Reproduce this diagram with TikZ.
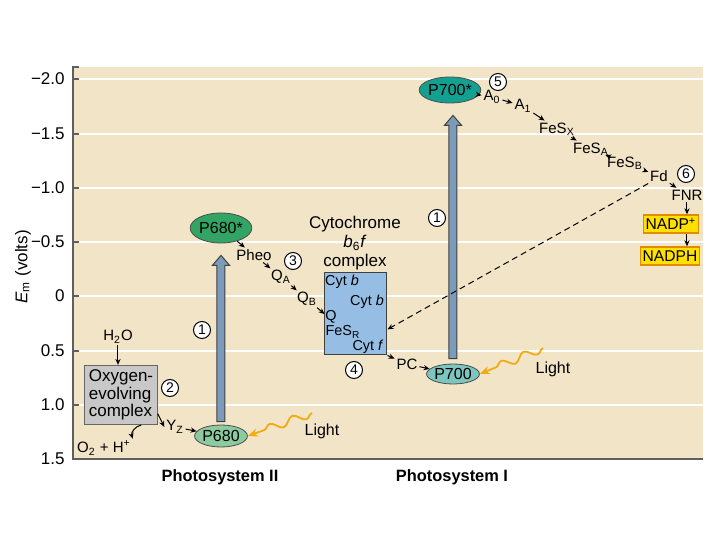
\documentclass[tikz,border=0pt]{standalone}
\usepackage{fontspec}
\setmainfont{Liberation Sans}
\usetikzlibrary{arrows.meta,calc,shapes.geometric,decorations.pathmorphing}

\definecolor{plotbg}{RGB}{242,229,199}
\definecolor{axisgray}{RGB}{95,95,95}
\definecolor{psIdark}{RGB}{20,160,145}
\definecolor{psIlight}{RGB}{125,198,192}
\definecolor{psIIdark}{RGB}{50,165,100}
\definecolor{psIIlight}{RGB}{140,202,160}
\definecolor{arrowblue}{RGB}{125,155,185}
\definecolor{cytblue}{RGB}{150,190,228}
\definecolor{oecgray}{RGB}{200,200,200}
\definecolor{nadpyellow}{RGB}{255,224,0}
\definecolor{nadpedge}{RGB}{225,140,0}
\definecolor{lightorange}{RGB}{240,170,20}

\tikzset{
  tick/.style={anchor=east, inner sep=0pt, font=\fontsize{8.5}{9}\selectfont},
  grid/.style={white, line width=0.8pt},
  axis/.style={axisgray, line width=1pt},
  lbl/.style={inner sep=0.8pt, font=\fontsize{7.5}{8}\selectfont},
  cytlbl/.style={inner sep=0.5pt, font=\fontsize{7.2}{8}\selectfont},
  num/.style={circle, draw, fill=white, line width=0.5pt, inner sep=0pt,
    minimum size=8.5pt, font=\fontsize{7}{7}\selectfont},
  pigment/.style={ellipse, draw=black!70, line width=0.4pt, inner sep=0pt,
    font=\fontsize{8}{9}\selectfont},
  cofactor/.style={draw=nadpedge, fill=nadpyellow, line width=0.7pt, inner xsep=1pt,
    inner ysep=1.5pt, minimum height=9pt, font=\fontsize{7.8}{9}\selectfont},
  arr/.style={-{Stealth[length=3pt,width=2.6pt]}, line width=0.5pt},
  bigarrow/.style={fill=arrowblue, draw=black!75, line width=0.5pt},
  lightwave/.style={lightorange, line width=0.9pt, decorate,
    decoration={snake, amplitude=2pt, segment length=12pt, post length=5pt},
    -{Stealth[length=5pt,width=4pt]}},
  lighttxt/.style={inner sep=0pt, font=\fontsize{8}{9}\selectfont},
  pslabel/.style={inner sep=0pt, font=\bfseries\fontsize{8.2}{9}\selectfont}
}

\begin{document}
\begin{tikzpicture}[x=0.5pt,y=-0.5pt]
    \useasboundingbox (0,0) rectangle (720,540);

    % plot area
    \fill[plotbg] (73,67) rectangle (703,459);
    \draw[grid] (79,79) -- (703,79);
    \draw[grid] (79,134) -- (703,134);
    \draw[grid] (79,188) -- (703,188);
    \draw[grid] (79,242) -- (703,242);
    \draw[grid] (79,296) -- (703,296);
    \draw[grid] (79,351) -- (703,351);
    \draw[grid] (79,405) -- (703,405);
    \draw[axis] (79,67) -- (73,67) -- (73,459) -- (703,459);
    \draw[axis] (73,79) -- (79,79);
    \draw[axis] (73,134) -- (79,134);
    \draw[axis] (73,188) -- (79,188);
    \draw[axis] (73,242) -- (79,242);
    \draw[axis] (73,296) -- (79,296);
    \draw[axis] (73,351) -- (79,351);
    \draw[axis] (73,405) -- (79,405);
    \node[tick] (t1) at (65,79) {−2.0};
    \node[tick] (t2) at (65,134) {−1.5};
    \node[tick] (t3) at (65,188) {−1.0};
    \node[tick] (t4) at (65,242) {−0.5};
    \node[tick] (t5) at (65,296) {0};
    \node[tick] (t6) at (65,351) {0.5};
    \node[tick] (t7) at (65,405) {1.0};
    \node[tick] (t8) at (65,459) {1.5};
    \node[rotate=90, inner sep=0pt, font=\fontsize{8.5}{9}\selectfont] (ylab) at (23,267)
        {\textit{E}\textsubscript{m} (volts)};

    % pigments
    \node[pigment, fill=psIdark, minimum width=29pt, minimum height=13pt] (P700s) at (450,90) {P700*};
    \node[pigment, fill=psIlight, minimum width=26pt, minimum height=10pt] (P700) at (453,374) {P700};
    \node[pigment, fill=psIIdark, minimum width=28.5pt, minimum height=15pt] (P680s) at (221,228) {P680*};
    \node[pigment, fill=psIIlight, minimum width=26pt, minimum height=11pt] (P680) at (221,436) {P680};

    % excitation
    \draw[bigarrow] let \p1=(P700.north), \p2=(P700s.south) in
        (\x1-2pt,\y1+2.5pt) -- (\x1-2pt,\y2-11pt) -- (\x1-4.3pt,\y2-11pt) -- (\x1,\y2-6pt)
        -- (\x1+4.3pt,\y2-11pt) -- (\x1+2pt,\y2-11pt) -- (\x1+2pt,\y1+2.5pt) -- cycle;
    \draw[bigarrow] let \p1=(P680.north), \p2=(P680s.south) in
        (\x1-2pt,\y1+1.5pt) -- (\x1-2pt,\y2-11pt) -- (\x1-4.3pt,\y2-11pt) -- (\x1,\y2-6pt)
        -- (\x1+4.3pt,\y2-11pt) -- (\x1+2pt,\y2-11pt) -- (\x1+2pt,\y1+1.5pt) -- cycle;
    \node[num] (n1a) at (202,330) {1};
    \node[num] (n1b) at (437,218) {1};

    % photosystem II side
    \node[draw=black!60, fill=oecgray, line width=0.6pt, minimum width=36pt, minimum height=29.5pt,
        inner sep=2pt, align=left, font=\fontsize{8.5}{8.7}\selectfont] (oec) at (121,395)
        {Oxygen-\\evolving\\complex};
    \node[lbl] (H2O) at (118,337) {H\textsubscript{2}O};
    \node[lbl] (O2) at (104,448) {O\textsubscript{2} + H\textsuperscript{+}};
    \node[lbl] (Yz) at (175,427) {Y\textsubscript{Z}};
    \node[num] (n2) at (170,388) {2};
    \draw[arr] (H2O) -- (H2O |- oec.north);
    \draw[arr] (oec.-56) to[bend right=50] (O2.north east);
    \draw[arr] (oec.-27) -- (Yz.west);
    \draw[arr] (Yz) -- (P680);

    \node[lbl] (Pheo) at (254,255) {Pheo};
    \node[lbl] (QA) at (281,277) {Q\textsubscript{A}};
    \node[lbl] (QB) at (307,299) {Q\textsubscript{B}};
    \node[num] (n3) at (293,261) {3};
    \draw[arr] (P680s) -- (Pheo);
    \draw[arr] (Pheo) -- (QA);
    \draw[arr] (QA) -- (QB);

    % cytochrome complex
    \node[align=center, inner sep=0pt, font=\fontsize{8.5}{9.5}\selectfont] (cytname) at (355,243)
        {Cytochrome\\\textit{b}\textsubscript{6}\textit{f}\\complex};
    \node[draw=black!75, fill=cytblue, line width=0.5pt, minimum width=31pt, minimum height=41pt,
        inner sep=0pt] (cyt) at (356,314) {};
    \node[cytlbl] (cytb1) at (342,282) {Cyt \textit{b}};
    \node[cytlbl] (cytb2) at (367,302) {Cyt \textit{b}};
    \node[cytlbl] (Q) at (331,317) {Q};
    \node[cytlbl] (FeSR) at (343,332) {FeS\textsubscript{R}};
    \node[cytlbl] (cytf) at (368,347) {Cyt \textit{f}};
    \node[num] (n4) at (354,370) {4};
    \node[lbl] (PC) at (407,364) {PC};
    \draw[arr] (QB) -- (cyt.west);
    \draw[arr] (cyt.south east) -- (PC);
    \draw[arr] (PC) -- (P700);

    % photosystem I side
    \node[lbl] (A0) at (492,97) {A\textsubscript{0}};
    \node[lbl] (A1) at (523,106) {A\textsubscript{1}};
    \node[lbl] (FeSX) at (557,129) {FeS\textsubscript{X}};
    \node[lbl] (FeSA) at (591,149) {FeS\textsubscript{A}};
    \node[lbl] (FeSB) at (625,163) {FeS\textsubscript{B}};
    \node[lbl] (Fd) at (659,176) {Fd};
    \node[lbl] (FNR) at (687,195) {FNR};
    \node[num] (n5) at (498,82) {5};
    \node[num] (n6) at (686,174) {6};
    \node[cofactor] (nadp) at (671,224) {NADP\textsuperscript{+}};
    \node[cofactor] (nadph) at (670,256) {NADPH};
    \draw[arr] (P700s) -- (A0);
    \draw[arr] (A0) -- (A1);
    \draw[arr] (A1) -- (FeSX);
    \draw[arr] (FeSX) -- (FeSA);
    \draw[arr] (FeSA) -- (FeSB);
    \draw[arr] (FeSB) -- (Fd);
    \draw[arr] (Fd) -- (FNR);
    \draw[arr] (FNR) -- (FNR |- nadp.north);
    \draw[arr] (FNR |- nadp.south) -- (FNR |- nadph.north);
    \draw[arr, dashed, dash pattern=on 3pt off 2pt] (Fd.south west) -- (cyt.-26);

    % light
    \coordinate (L1) at (543,348);
    \coordinate (L2) at (312,413);
    \draw[lightwave] (L1) -- (P700.east);
    \draw[lightwave] (L2) -- (P680.east);
    \node[lighttxt] (light1) at (553,369) {Light};
    \node[lighttxt] (light2) at (322,431) {Light};

    \node[pslabel] (ps2) at (220,477) {Photosystem II};
    \node[pslabel] (ps1) at (452,477) {Photosystem I};
\end{tikzpicture}
\end{document}
